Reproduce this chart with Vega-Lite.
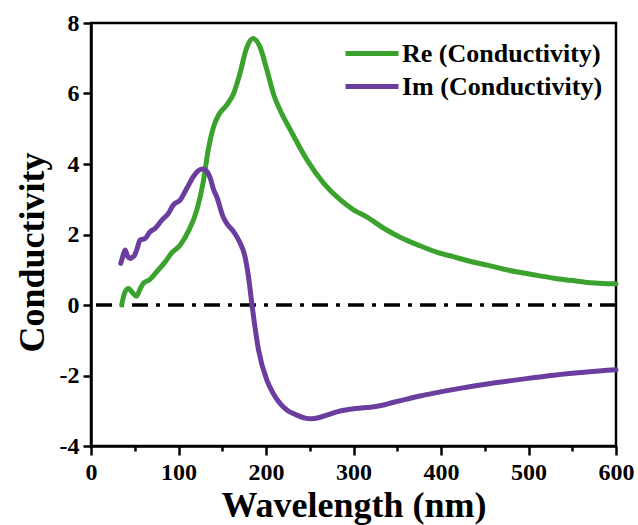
{
  "$schema": "https://vega.github.io/schema/vega-lite/v6.json",
  "autosize": "none",
  "padding": {"left": 91, "top": 23, "right": 22, "bottom": 79},
  "width": 525,
  "height": 423,
  "background": "white",
  "config": {
    "font": "Liberation Serif",
    "view": {"stroke": "black", "strokeWidth": 2.5},
    "axis": {
      "grid": false,
      "domainColor": "black",
      "domainWidth": 2.5,
      "tickColor": "black",
      "tickWidth": 2.5,
      "labelColor": "black",
      "labelFont": "Liberation Serif",
      "labelFontSize": 24,
      "labelFontWeight": "bold",
      "titleColor": "black",
      "titleFont": "Liberation Serif",
      "titleFontSize": 36,
      "titleFontWeight": "bold"
    }
  },
  "datasets": {
    "curves": [
      {"wl": 35, "val": 0.0, "series": "Re (Conductivity)"},
      {"wl": 39, "val": 0.38, "series": "Re (Conductivity)"},
      {"wl": 43, "val": 0.47, "series": "Re (Conductivity)"},
      {"wl": 47, "val": 0.36, "series": "Re (Conductivity)"},
      {"wl": 52, "val": 0.25, "series": "Re (Conductivity)"},
      {"wl": 56, "val": 0.45, "series": "Re (Conductivity)"},
      {"wl": 60, "val": 0.62, "series": "Re (Conductivity)"},
      {"wl": 67, "val": 0.72, "series": "Re (Conductivity)"},
      {"wl": 75, "val": 0.94, "series": "Re (Conductivity)"},
      {"wl": 85, "val": 1.23, "series": "Re (Conductivity)"},
      {"wl": 92, "val": 1.47, "series": "Re (Conductivity)"},
      {"wl": 102, "val": 1.70, "series": "Re (Conductivity)"},
      {"wl": 111, "val": 2.08, "series": "Re (Conductivity)"},
      {"wl": 121, "val": 2.70, "series": "Re (Conductivity)"},
      {"wl": 128, "val": 3.45, "series": "Re (Conductivity)"},
      {"wl": 134, "val": 4.40, "series": "Re (Conductivity)"},
      {"wl": 140, "val": 5.05, "series": "Re (Conductivity)"},
      {"wl": 146, "val": 5.40, "series": "Re (Conductivity)"},
      {"wl": 155, "val": 5.67, "series": "Re (Conductivity)"},
      {"wl": 163, "val": 6.00, "series": "Re (Conductivity)"},
      {"wl": 170, "val": 6.55, "series": "Re (Conductivity)"},
      {"wl": 178, "val": 7.30, "series": "Re (Conductivity)"},
      {"wl": 185, "val": 7.56, "series": "Re (Conductivity)"},
      {"wl": 193, "val": 7.33, "series": "Re (Conductivity)"},
      {"wl": 201, "val": 6.67, "series": "Re (Conductivity)"},
      {"wl": 209, "val": 5.95, "series": "Re (Conductivity)"},
      {"wl": 216, "val": 5.53, "series": "Re (Conductivity)"},
      {"wl": 228, "val": 4.96, "series": "Re (Conductivity)"},
      {"wl": 247, "val": 4.11, "series": "Re (Conductivity)"},
      {"wl": 266, "val": 3.45, "series": "Re (Conductivity)"},
      {"wl": 285, "val": 2.98, "series": "Re (Conductivity)"},
      {"wl": 300, "val": 2.70, "series": "Re (Conductivity)"},
      {"wl": 315, "val": 2.50, "series": "Re (Conductivity)"},
      {"wl": 335, "val": 2.17, "series": "Re (Conductivity)"},
      {"wl": 355, "val": 1.90, "series": "Re (Conductivity)"},
      {"wl": 376, "val": 1.68, "series": "Re (Conductivity)"},
      {"wl": 395, "val": 1.50, "series": "Re (Conductivity)"},
      {"wl": 414, "val": 1.37, "series": "Re (Conductivity)"},
      {"wl": 433, "val": 1.24, "series": "Re (Conductivity)"},
      {"wl": 453, "val": 1.13, "series": "Re (Conductivity)"},
      {"wl": 471, "val": 1.02, "series": "Re (Conductivity)"},
      {"wl": 491, "val": 0.92, "series": "Re (Conductivity)"},
      {"wl": 510, "val": 0.84, "series": "Re (Conductivity)"},
      {"wl": 529, "val": 0.76, "series": "Re (Conductivity)"},
      {"wl": 548, "val": 0.70, "series": "Re (Conductivity)"},
      {"wl": 567, "val": 0.64, "series": "Re (Conductivity)"},
      {"wl": 585, "val": 0.61, "series": "Re (Conductivity)"},
      {"wl": 600, "val": 0.60, "series": "Re (Conductivity)"},
      {"wl": 34, "val": 1.18, "series": "Im (Conductivity)"},
      {"wl": 36, "val": 1.35, "series": "Im (Conductivity)"},
      {"wl": 39, "val": 1.56, "series": "Im (Conductivity)"},
      {"wl": 42, "val": 1.38, "series": "Im (Conductivity)"},
      {"wl": 44.6, "val": 1.32, "series": "Im (Conductivity)"},
      {"wl": 47, "val": 1.35, "series": "Im (Conductivity)"},
      {"wl": 50, "val": 1.42, "series": "Im (Conductivity)"},
      {"wl": 53, "val": 1.62, "series": "Im (Conductivity)"},
      {"wl": 56, "val": 1.84, "series": "Im (Conductivity)"},
      {"wl": 62, "val": 1.89, "series": "Im (Conductivity)"},
      {"wl": 67.5, "val": 2.08, "series": "Im (Conductivity)"},
      {"wl": 73, "val": 2.17, "series": "Im (Conductivity)"},
      {"wl": 81, "val": 2.41, "series": "Im (Conductivity)"},
      {"wl": 88.5, "val": 2.60, "series": "Im (Conductivity)"},
      {"wl": 94, "val": 2.84, "series": "Im (Conductivity)"},
      {"wl": 102, "val": 2.98, "series": "Im (Conductivity)"},
      {"wl": 109.5, "val": 3.31, "series": "Im (Conductivity)"},
      {"wl": 117, "val": 3.64, "series": "Im (Conductivity)"},
      {"wl": 122, "val": 3.80, "series": "Im (Conductivity)"},
      {"wl": 127.5, "val": 3.86, "series": "Im (Conductivity)"},
      {"wl": 132, "val": 3.80, "series": "Im (Conductivity)"},
      {"wl": 136, "val": 3.62, "series": "Im (Conductivity)"},
      {"wl": 140, "val": 3.28, "series": "Im (Conductivity)"},
      {"wl": 144, "val": 3.05, "series": "Im (Conductivity)"},
      {"wl": 151, "val": 2.50, "series": "Im (Conductivity)"},
      {"wl": 155, "val": 2.32, "series": "Im (Conductivity)"},
      {"wl": 163, "val": 2.08, "series": "Im (Conductivity)"},
      {"wl": 170, "val": 1.78, "series": "Im (Conductivity)"},
      {"wl": 176, "val": 1.37, "series": "Im (Conductivity)"},
      {"wl": 180, "val": 0.8, "series": "Im (Conductivity)"},
      {"wl": 184, "val": 0.0, "series": "Im (Conductivity)"},
      {"wl": 191.5, "val": -1.28, "series": "Im (Conductivity)"},
      {"wl": 201, "val": -2.13, "series": "Im (Conductivity)"},
      {"wl": 208, "val": -2.50, "series": "Im (Conductivity)"},
      {"wl": 216, "val": -2.79, "series": "Im (Conductivity)"},
      {"wl": 225, "val": -3.0, "series": "Im (Conductivity)"},
      {"wl": 235, "val": -3.12, "series": "Im (Conductivity)"},
      {"wl": 245, "val": -3.21, "series": "Im (Conductivity)"},
      {"wl": 252, "val": -3.23, "series": "Im (Conductivity)"},
      {"wl": 260, "val": -3.20, "series": "Im (Conductivity)"},
      {"wl": 270, "val": -3.12, "series": "Im (Conductivity)"},
      {"wl": 281, "val": -3.03, "series": "Im (Conductivity)"},
      {"wl": 293, "val": -2.97, "series": "Im (Conductivity)"},
      {"wl": 315, "val": -2.91, "series": "Im (Conductivity)"},
      {"wl": 330, "val": -2.86, "series": "Im (Conductivity)"},
      {"wl": 346, "val": -2.76, "series": "Im (Conductivity)"},
      {"wl": 361, "val": -2.67, "series": "Im (Conductivity)"},
      {"wl": 376, "val": -2.58, "series": "Im (Conductivity)"},
      {"wl": 392, "val": -2.50, "series": "Im (Conductivity)"},
      {"wl": 407, "val": -2.43, "series": "Im (Conductivity)"},
      {"wl": 425, "val": -2.35, "series": "Im (Conductivity)"},
      {"wl": 453, "val": -2.24, "series": "Im (Conductivity)"},
      {"wl": 491, "val": -2.11, "series": "Im (Conductivity)"},
      {"wl": 529, "val": -1.99, "series": "Im (Conductivity)"},
      {"wl": 567, "val": -1.90, "series": "Im (Conductivity)"},
      {"wl": 600, "val": -1.84, "series": "Im (Conductivity)"}
    ],
    "zero": [{"z": 0}]
  },
  "layer": [
    {
      "data": {"name": "zero"},
      "mark": {"type": "rule", "color": "black", "strokeWidth": 3.5, "strokeDash": [16, 8, 4, 8]},
      "encoding": {"y": {"field": "z", "type": "quantitative", "scale": {"domain": [-4, 8], "nice": false}}}
    },
    {
      "data": {"name": "curves"},
      "mark": {"type": "line", "strokeWidth": 5, "interpolate": "monotone", "strokeCap": "round", "strokeJoin": "round"},
      "encoding": {
        "x": {
          "field": "wl", "type": "quantitative",
          "scale": {"domain": [0, 600], "nice": false},
          "axis": {
            "title": "Wavelength (nm)",
            "values": [0, 50, 100, 150, 200, 250, 300, 350, 400, 450, 500, 550, 600],
            "labelExpr": "datum.value % 100 === 0 ? datum.label : ''",
            "tickSize": {"condition": {"test": "datum.value % 100 === 0", "value": 9}, "value": 5},
            "labelPadding": 5,
            "titlePadding": 4,
            "labelFlush": false,
            "labelOverlap": false
          }
        },
        "y": {
          "field": "val", "type": "quantitative",
          "scale": {"domain": [-4, 8], "nice": false},
          "axis": {
            "title": "Conductivity",
            "values": [-4, -3, -2, -1, 0, 1, 2, 3, 4, 5, 6, 7, 8],
            "labelExpr": "datum.value % 2 === 0 ? toString(datum.value) : ''",
            "tickSize": {"condition": {"test": "datum.value % 2 === 0", "value": 8}, "value": 5},
            "labelPadding": 4,
            "titlePadding": 8,
            "titleY": 229,
            "labelFlush": false,
            "labelOverlap": false
          }
        },
        "color": {
          "field": "series", "type": "nominal",
          "scale": {"domain": ["Re (Conductivity)", "Im (Conductivity)"], "range": ["#3ba22d", "#6a3d9e"]},
          "legend": {
            "title": null,
            "orient": "none",
            "legendX": 252,
            "legendY": 14,
            "padding": 0,
            "symbolType": "stroke",
            "symbolSize": 2809,
            "symbolStrokeWidth": 5,
            "labelFont": "Liberation Serif",
            "labelFontSize": 26,
            "labelFontWeight": "bold",
            "labelColor": "black",
            "labelLimit": 400,
            "labelOffset": 1,
            "clipHeight": 33,
            "rowPadding": 0
          }
        }
      }
    }
  ]
}
